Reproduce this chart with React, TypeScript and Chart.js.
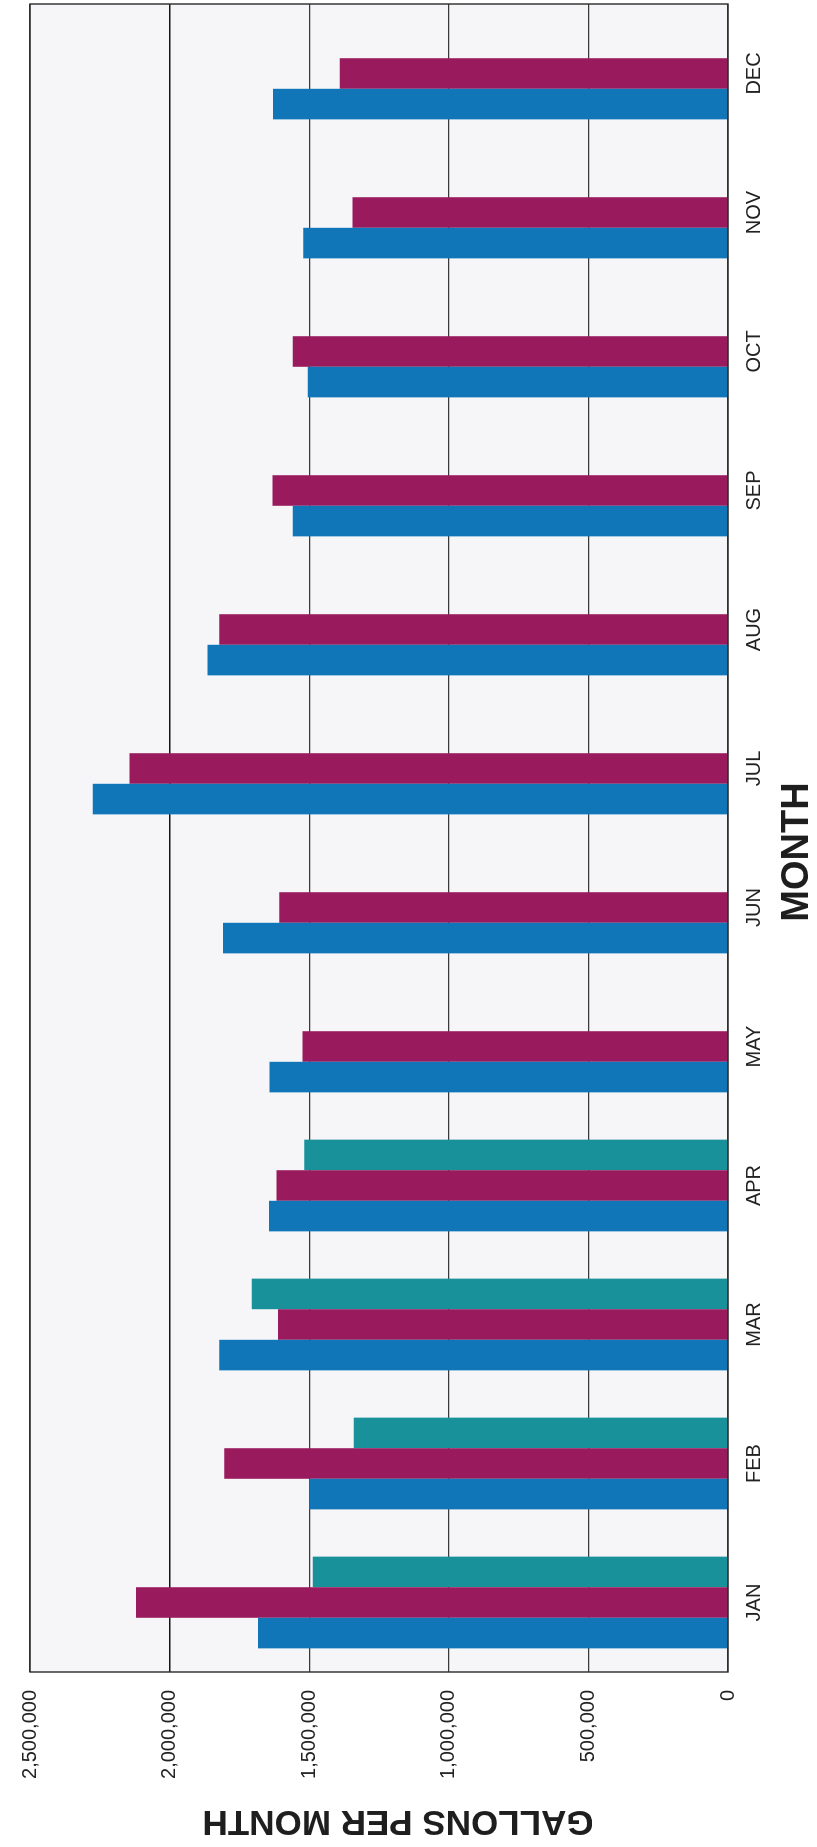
import React, { useEffect, useRef } from "react";
import { Chart, registerables } from "chart.js";

Chart.register(...registerables);

// Monthly water use, gallons per month
const months = ["JAN", "FEB", "MAR", "APR", "MAY", "JUN", "JUL", "AUG", "SEP", "OCT", "NOV", "DEC"];
const seriesA = [1683000, 1500000, 1822000, 1644000, 1642000, 1809000, 2275000, 1864000, 1559000, 1505000, 1521000, 1630000];
const seriesB = [2120000, 1804000, 1612000, 1617000, 1524000, 1607000, 2144000, 1822000, 1631000, 1559000, 1345000, 1391000];
const seriesC = [1487000, 1340000, 1706000, 1518000, null, null, null, null, null, null, null, null];
const valueTicks = [0, 500000, 1000000, 1500000, 2000000, 2500000];

const colorA = "#1176b8";
const colorB = "#991b5d";
const colorC = "#19919a";

const W = 1847;
const H = 817;
const FONT = "'Liberation Sans', Arial, Helvetica, sans-serif";

const framePlugin = {
  id: "frame",
  beforeDraw(chart: any) {
    const { ctx, chartArea: a } = chart;
    ctx.save();
    ctx.fillStyle = "#f6f6f9";
    ctx.fillRect(a.left, a.top, a.right - a.left, a.bottom - a.top);
    ctx.restore();
  },
  afterDatasetsDraw(chart: any) {
    const { ctx, chartArea: a } = chart;
    ctx.save();
    ctx.strokeStyle = "#2a2a2a";
    ctx.lineWidth = 1.4;
    ctx.strokeRect(a.left, a.top, a.right - a.left, a.bottom - a.top);
    ctx.restore();
  },
  afterDraw(chart: any) {
    const { ctx } = chart;
    ctx.save();
    ctx.fillStyle = "#1e1e1e";
    ctx.textAlign = "center";
    ctx.textBaseline = "middle";
    // value-axis title
    ctx.save();
    ctx.translate(26, 398);
    ctx.rotate(-Math.PI / 2);
    ctx.font = `bold 35px ${FONT}`;
    ctx.fillText("GALLONS PER MONTH", 0, 0);
    ctx.restore();
    // category-axis title
    ctx.font = `bold 38px ${FONT}`;
    ctx.fillText("MONTH", 995, 798);
    ctx.restore();
  },
};

export default function App() {
  const ref = useRef<HTMLCanvasElement | null>(null);

  useEffect(() => {
    if (!ref.current) return;
    const chart = new Chart(ref.current, {
      type: "bar",
      data: {
        labels: months,
        datasets: [
          { label: "A", data: seriesA, backgroundColor: colorA },
          { label: "B", data: seriesB, backgroundColor: colorB },
          { label: "C", data: seriesC as any, backgroundColor: colorC },
        ],
      },
      options: {
        responsive: false,
        animation: false,
        devicePixelRatio: 1,
        layout: { padding: { top: 20, right: 4, left: 0, bottom: 0 } },
        datasets: { bar: { barPercentage: 1, categoryPercentage: 0.66 } },
        plugins: { legend: { display: false }, tooltip: { enabled: false } },
        scales: {
          x: {
            grid: { display: false, drawTicks: false },
            border: { display: false },
            ticks: { color: "#222", font: { family: FONT, size: 20 }, padding: 14, maxRotation: 0 },
            afterFit: (s: any) => {
              s.height = H - 728;
            },
          },
          y: {
            min: 0,
            max: 2500000,
            afterBuildTicks: (s: any) => {
              s.ticks = valueTicks.map((v) => ({ value: v }));
            },
            grid: {
              color: (c: any) => (c.tick && c.tick.value === 2000000 ? "#151515" : "#3a3a3a"),
              lineWidth: (c: any) => (c.tick && c.tick.value === 2000000 ? 1.5 : 1.2),
              drawTicks: false,
            },
            border: { display: false },
            ticks: {
              color: "#222",
              font: { family: FONT, size: 20 },
              padding: 18,
              callback: (v: any) => Number(v).toLocaleString("en-US"),
            },
            afterFit: (s: any) => {
              s.width = 175;
            },
          },
        },
      },
      plugins: [framePlugin],
    });
    return () => chart.destroy();
  }, []);

  return (
    <div
      style={{
        position: "absolute",
        left: 0,
        top: 0,
        width: H,
        height: W,
        overflow: "hidden",
        background: "#fff",
      }}
    >
      <canvas
        ref={ref}
        width={W}
        height={H}
        style={{
          position: "absolute",
          left: 0,
          top: 0,
          width: W,
          height: H,
          transformOrigin: "0 0",
          transform: `translateY(${W}px) rotate(-90deg)`,
        }}
      />
    </div>
  );
}
